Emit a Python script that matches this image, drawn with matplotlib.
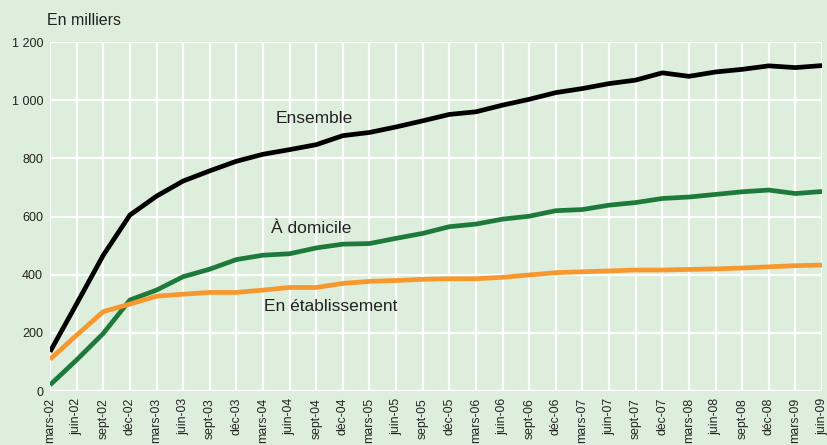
import matplotlib.pyplot as plt
from matplotlib.ticker import FuncFormatter

plt.rcParams['font.family'] = ['Liberation Sans', 'DejaVu Sans']

# trimestres de mars-02 a juin-09
quarters = ['mars', 'juin', 'sept', 'déc']
labels = []
for yr in range(2, 10):
    for q in quarters:
        labels.append(f"{q}-{yr:02d}")
labels = labels[:30]

ensemble = [135, 300, 467, 605, 670, 722, 757, 790, 814, 830,
            847, 878, 889, 908, 929, 951, 960, 983, 1003, 1026,
            1040, 1057, 1069, 1094, 1082, 1097, 1106, 1118, 1112, 1119]
domicile = [21, 107, 198, 313, 347, 393, 419, 452, 467, 472,
            492, 505, 507, 525, 542, 565, 574, 591, 601, 620,
            624, 639, 648, 662, 667, 676, 685, 691, 679, 686]
etablissement = [109, 192, 273, 299, 326, 333, 339, 339, 347, 356,
                 356, 370, 377, 380, 384, 386, 386, 391, 399, 407,
                 410, 413, 416, 416, 418, 420, 423, 427, 431, 433]

bg = '#deeedc'
fig = plt.figure(figsize=(8.27, 4.45), dpi=100, facecolor=bg)
ax = fig.add_axes([0.0605, 0.1213, 0.9335, 0.7843])
ax.set_facecolor(bg)

x = list(range(len(labels)))
ax.plot(x, ensemble, color='black', linewidth=3.4, solid_capstyle='butt', zorder=3)
ax.plot(x, domicile, color='#1d7a3b', linewidth=3.4, solid_capstyle='butt', zorder=3)
ax.plot(x, etablissement, color='#f7982e', linewidth=3.4, solid_capstyle='butt', zorder=3)

ax.set_xlim(0, len(labels) - 1)
ax.set_ylim(0, 1200)
ax.set_yticks(range(0, 1201, 200))
ax.yaxis.set_major_formatter(FuncFormatter(lambda v, p: f"{int(v):,}".replace(',', ' ')))
ax.set_xticks(x)
ax.set_xticklabels(labels, rotation=90, fontsize=8.8, color='#222222')
ax.tick_params(axis='y', labelsize=9, colors='#222222')
ax.tick_params(length=0, pad=5)

ax.grid(True, color='white', linewidth=1.6)
ax.set_axisbelow(True)
for s in ax.spines.values():
    s.set_visible(False)

ax.text(9.92, 938, 'Ensemble', fontsize=12.5, color='#222222', ha='center', va='center')
ax.text(9.81, 558, 'À domicile', fontsize=12.5, color='#222222', ha='center', va='center')
ax.text(10.53, 290, 'En établissement', fontsize=12.5, color='#222222', ha='center', va='center')

fig.text(0.057, 0.955, 'En milliers', fontsize=11.5, color='#222222', ha='left', va='center')

plt.savefig('out.png', dpi=100, facecolor=bg)
plt.close()
